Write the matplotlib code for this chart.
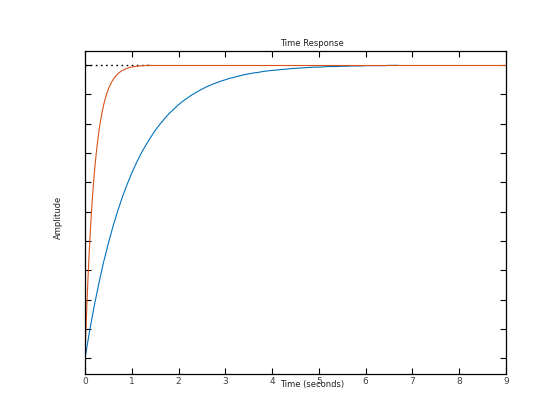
import numpy as np
import matplotlib
matplotlib.use("Agg")
import matplotlib.pyplot as plt

# Blue response (sampled every 0.1 s, 0 .. 6.7 s)
blue_vals = [0.000, 0.095, 0.181, 0.259, 0.330, 0.393, 0.451, 0.503, 0.551, 0.593,
             0.632, 0.667, 0.699, 0.727, 0.753, 0.777, 0.798, 0.817, 0.835, 0.850,
             0.865, 0.878, 0.889, 0.900, 0.909, 0.918, 0.926, 0.933, 0.939, 0.945,
             0.950, 0.955, 0.959, 0.963, 0.967, 0.970, 0.973, 0.975, 0.978, 0.980,
             0.982, 0.983, 0.985, 0.986, 0.988, 0.989, 0.990, 0.991, 0.992, 0.993,
             0.993, 0.994, 0.995, 0.995, 0.995, 0.996, 0.996, 0.997, 0.997, 0.997,
             0.998, 0.998, 0.998, 0.998, 0.998, 0.999, 0.999, 0.999]
blue_t = np.linspace(0, 6.7, len(blue_vals))

# Orange response (sampled every 0.02 s, 0 .. 1.4 s), then held to 9 s
orange_vals = [0.000, 0.095, 0.181, 0.259, 0.330, 0.393, 0.451, 0.503, 0.551, 0.593,
               0.632, 0.667, 0.699, 0.727, 0.753, 0.777, 0.798, 0.817, 0.835, 0.850,
               0.865, 0.878, 0.889, 0.900, 0.909, 0.918, 0.926, 0.933, 0.939, 0.945,
               0.950, 0.955, 0.959, 0.963, 0.967, 0.970, 0.973, 0.975, 0.978, 0.980,
               0.982, 0.983, 0.985, 0.986, 0.988, 0.989, 0.990, 0.991, 0.992, 0.993,
               0.993, 0.994, 0.995, 0.995, 0.995, 0.996, 0.996, 0.997, 0.997, 0.997,
               0.998, 0.998, 0.998, 0.998, 0.998, 0.999, 0.999, 0.999, 0.999, 0.999,
               0.999]
orange_t = list(np.linspace(0, 1.4, len(orange_vals)))
orange_hold_t = [1.4, 9.0]
orange_hold_v = [1.0, 1.0]

steady_t = [0.0, 1.4]
steady_v = [1.0, 1.0]

xticks = list(range(0, 10))
yticks = [round(0.1 * i, 1) for i in range(11)]

fig = plt.figure(figsize=(5.6, 4.2), dpi=100)
ax = fig.add_axes([85/560, 1-374/420, (506-85)/560, (374-50.7)/420])

ax.plot(steady_t, steady_v, color='black', linestyle=(0, (1.2, 2.5)), linewidth=1.0)
ax.plot(blue_t, blue_vals, color='#0072BD', linewidth=0.8)
ax.plot(orange_t, orange_vals, color='#D95319', linewidth=0.8)
ax.plot(orange_hold_t, orange_hold_v, color='#D95319', linewidth=0.8)

ax.set_xlim(0, 9)
ax.set_ylim(-0.053, 1.049)
ax.set_xticks(xticks)
ax.set_xticklabels([str(x) for x in xticks])
ax.set_yticks(yticks)
ax.set_yticklabels([])
ax.tick_params(direction='in', length=4, width=0.8, top=True, right=True,
               labelsize=6.5, labelcolor='#404040', pad=2)
for s in ax.spines.values():
    s.set_linewidth(0.9)

fig.text(312/560, 1-44/420, 'Time Response', ha='center', va='center', fontsize=6, color='#202020')
fig.text(312/560, 1-384/420, 'Time (seconds)', ha='center', va='center', fontsize=6, color='#202020')
fig.text(58/560, 1-217/420, 'Amplitude', ha='center', va='center', rotation=90, fontsize=6, color='#202020')

fig.savefig('out.png', dpi=100)
